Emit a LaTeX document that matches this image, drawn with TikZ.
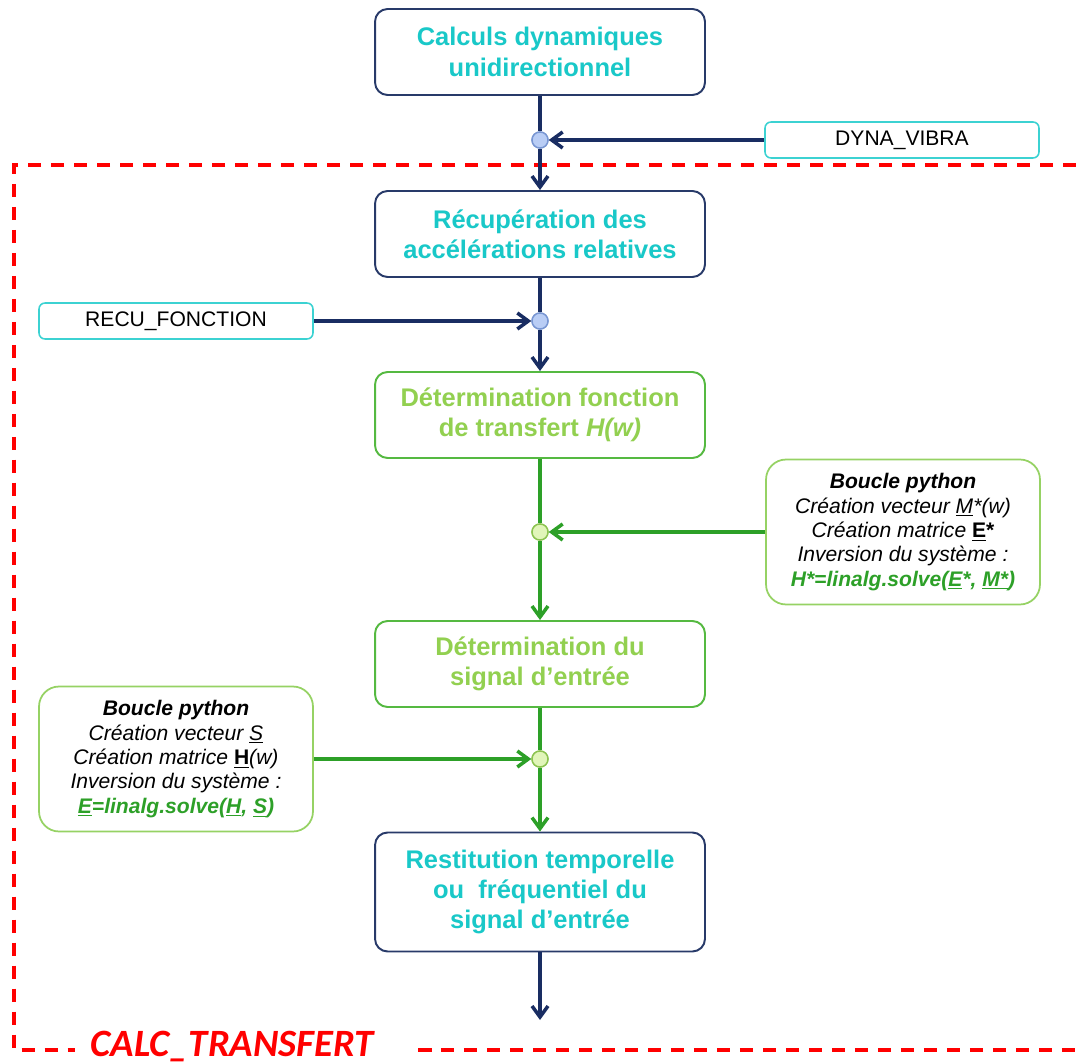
\documentclass[tikz,border=0pt]{standalone}
\usepackage{fontspec}
\setmainfont{Liberation Sans}
\newfontfamily\calibfont{Carlito}
\usetikzlibrary{arrows.meta}
\definecolor{navyline}{RGB}{40,58,105}
\definecolor{navyarrow}{RGB}{25,45,98}
\definecolor{cyantext}{RGB}{25,200,200}
\definecolor{cyanline}{RGB}{60,210,210}
\definecolor{greenline}{RGB}{85,185,65}
\definecolor{greentext}{RGB}{146,208,80}
\definecolor{greenarrow}{RGB}{45,160,40}
\definecolor{loopline}{RGB}{150,210,100}
\definecolor{juncblue}{RGB}{185,205,245}
\definecolor{juncblueline}{RGB}{120,150,210}
\definecolor{juncgreen}{RGB}{225,245,185}
\definecolor{juncgreenline}{RGB}{140,195,80}
\tikzset{
  flowbox/.style={draw=navyline, line width=1.1pt, rounded corners=0.25cm, fill=white,
    minimum width=6.6cm, minimum height=1.72cm, align=center, text=cyantext,
    font=\bfseries\fontsize{14.5}{17.3}\selectfont},
  greenbox/.style={flowbox, draw=greenline, text=greentext},
  inbox/.style={draw=cyanline, line width=0.9pt, rounded corners=0.12cm, fill=white,
    minimum width=5.48cm, minimum height=0.72cm, font=\fontsize{12}{14}\selectfont},
  loopbox/.style={draw=loopline, line width=1pt, rounded corners=0.4cm, fill=white,
    minimum width=5.48cm, minimum height=2.9cm, align=center,
    font=\itshape\fontsize{12}{13.9}\selectfont},
  junc/.style={circle, draw=juncblueline, fill=juncblue, line width=0.8pt,
    minimum size=0.32cm, inner sep=0pt},
  gjunc/.style={junc, draw=juncgreenline, fill=juncgreen},
  flow/.style={draw=navyarrow, line width=2pt},
  gflow/.style={flow, draw=greenarrow},
  arr/.style={-{Straight Barb[length=0.22cm,width=0.32cm,line width=2pt]}}
}
\newcommand{\pyline}[1]{{\bfseries\color{greenarrow}#1}}
\begin{document}
\begin{tikzpicture}[x=0.02cm, y=-0.02cm]
\useasboundingbox (0,0) rectangle (1076,1064);
\draw [red, line width=2.3pt, dash pattern=on 0.27cm off 0.19cm]
  (1076,165) -- (14,165) -- (14,1050) -- (75,1050);
\draw [red, line width=2.3pt, dash pattern=on 0.27cm off 0.19cm]
  (418,1050) -- (1076,1050);
\node (calc) at (232,1047) {\calibfont\bfseries\itshape\fontsize{22}{24}\selectfont\color{red}CALC\_TRANSFERT};
\node [flowbox] (dyn) at (540,52) {Calculs dynamiques\\unidirectionnel};
\node [junc] (j1) at (540,140) {};
\node [inbox] (vibra) at (902,140) {DYNA\_VIBRA};
\node [flowbox] (recup) at (540,234) {Récupération des\\accélérations relatives};
\node [junc] (j2) at (540,321) {};
\node [inbox] (recu) at (176,321) {RECU\_FONCTION};
\node [greenbox] (transf) at (540,415) {Détermination fonction\\de transfert \textit{H(w)}};
\node [gjunc] (j3) at (540,532) {};
\node [loopbox] (loopr) at (903,532) {\textbf{Boucle python}\\Création vecteur \underline{M}*(w)\\Création matrice \textbf{\upshape\underline{E}*}\\Inversion du système :\\\pyline{H*=linalg.solve(\underline{E}*, \underline{M*})}};
\node [greenbox] (signal) at (540,664) {Détermination du\\signal d’entrée};
\node [gjunc] (j4) at (540,759) {};
\node [loopbox] (loopl) at (176,759) {\textbf{Boucle python}\\Création vecteur \underline{S}\\Création matrice \textbf{\upshape\underline{H}}(w)\\Inversion du système :\\\pyline{\underline{E}=linalg.solve(\underline{H}, \underline{S})}};
\node [flowbox, minimum height=2.38cm] (restit) at (540,892) {Restitution temporelle\\ou\ \ fréquentiel du\\signal d’entrée};
\coordinate (out) at (540,1020);
\draw [flow] (dyn) -- (j1);
\draw [flow, arr] (j1) -- (recup);
\draw [flow, arr] (vibra) -- (j1);
\draw [flow] (recup) -- (j2);
\draw [flow, arr] (j2) -- (transf);
\draw [flow, arr] (recu) -- (j2);
\draw [gflow] (transf) -- (j3);
\draw [gflow, arr] (j3) -- (signal);
\draw [gflow, arr] (loopr) -- (j3);
\draw [gflow] (signal) -- (j4);
\draw [gflow, arr] (j4) -- (restit);
\draw [gflow, arr] (loopl) -- (j4);
\draw [flow, arr] (restit) -- (out);
\node [junc] at (j1) {};
\node [junc] at (j2) {};
\node [gjunc] at (j3) {};
\node [gjunc] at (j4) {};
\end{tikzpicture}
\end{document}
